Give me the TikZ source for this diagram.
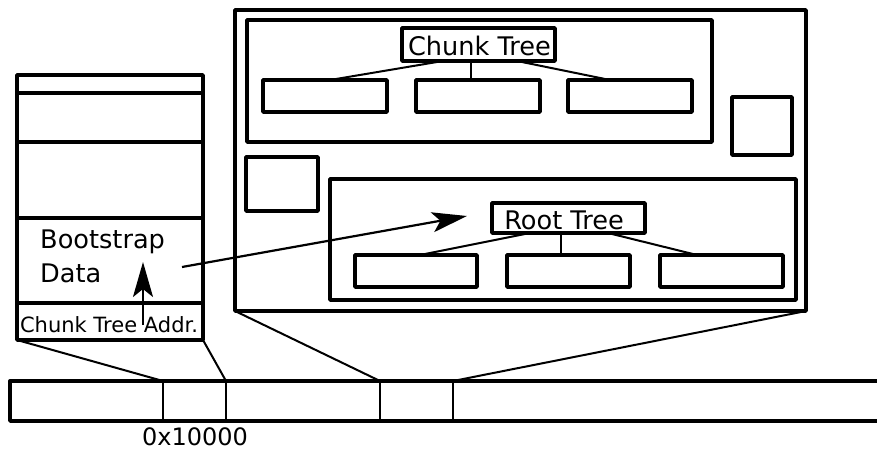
\documentclass[tikz,border=0pt]{standalone}
\usepackage{fontspec}
\setmainfont{DejaVu Sans}
\usetikzlibrary{arrows.meta,calc}
\tikzset{
  box/.style={draw, line width=3.8pt, line join=round, inner sep=0pt, outer sep=0pt},
  link/.style={line width=2pt},
  ptr/.style={line width=2.2pt, -{Stealth[length=35pt, width=20pt, inset=8pt]}},
  label/.style={inner sep=0pt, anchor=base, font=\fontsize{25.6}{30}\selectfont},
}
\begin{document}
\begin{tikzpicture}[x=1pt, y=-1pt]
\useasboundingbox (0,0) rectangle (877,450);

% ---- on-disk block: stacked cells ----
\node[box, minimum width=186pt, minimum height=18pt] (s1) at (110,84) {};
\node[box, minimum width=186pt, minimum height=49pt] (s2) at (110,117.5) {};
\node[box, minimum width=186pt, minimum height=76pt] (s3) at (110,180) {};
\node[box, minimum width=186pt, minimum height=85pt] (s4) at (110,260.5) {};
\node[box, minimum width=186pt, minimum height=37pt] (s5) at (110,321.5) {};
\node[label, anchor=base west] (boot) at (40,248) {Bootstrap};
\node[label, anchor=base west] (data) at (40,282) {Data};
\node[label, font=\fontsize{21}{24}\selectfont] (addr) at (109,332) {Chunk Tree Addr.};

% ---- tree area ----
\node[box, minimum width=571pt, minimum height=301pt] (big) at (520.5,160.5) {};

% chunk tree
\node[box, minimum width=465pt, minimum height=122pt] (carea) at (479.5,81) {};
\node[box, minimum width=153pt, minimum height=33pt] (ct) at (478.5,44.5) {};
\node[label] (cttext) at (479.5,55) {Chunk Tree};
\node[box, minimum width=124pt, minimum height=32pt] (c1) at (325,96) {};
\node[box, minimum width=124pt, minimum height=32pt] (c2) at (478,96) {};
\node[box, minimum width=124pt, minimum height=32pt] (c3) at (630,96) {};
\draw[link] ([xshift=-35.5pt]ct.south) -- ([xshift=5pt]c1.north);
\draw[link] ([xshift=-7.5pt]ct.south) -- ([xshift=-7pt]c2.north);
\draw[link] ([xshift=38.5pt]ct.south) -- ([xshift=-20pt]c3.north);

% loose blocks
\node[box, minimum width=60pt, minimum height=58pt] (sqr) at (762,126) {};
\node[box, minimum width=72pt, minimum height=54pt] (sql) at (282,184) {};

% root tree
\node[box, minimum width=466pt, minimum height=121pt] (rarea) at (563,239.5) {};
\node[box, minimum width=153pt, minimum height=30pt] (rt) at (568.5,218) {};
\node[label] (rttext) at (564,229) {Root Tree};
\node[box, minimum width=122pt, minimum height=32pt] (r1) at (416,271) {};
\node[box, minimum width=123pt, minimum height=32pt] (r2) at (568.5,271) {};
\node[box, minimum width=123pt, minimum height=32pt] (r3) at (721.5,271) {};
\draw[link] ([xshift=-38.5pt]rt.south) -- ([xshift=4pt]r1.north);
\draw[link] ([xshift=-7.5pt]rt.south) -- ([xshift=-7.5pt]r2.north);
\draw[link] ([xshift=39.5pt]rt.south) -- ([xshift=-24.5pt]r3.north);

% pointers
\coordinate (asrc) at (143,325);
\coordinate (atip) at (143,262);
\draw[ptr] (asrc) -- (atip);
\coordinate (bsrc) at (182,267);
\coordinate (btip) at (467,216);
\draw[ptr] (bsrc) -- (btip);

% ---- disk strip ----
\coordinate (d1) at (163,381);
\coordinate (d2) at (226,381);
\coordinate (d3) at (380,381);
\coordinate (d4) at (453,381);
\draw[line width=3.4pt, line join=round] (880,381) -- (10,381) -- (10,421) -- (880,421);
\foreach \d in {d1,d2,d3,d4}
  \draw[link] (\d) -- ++(0,40);
\node[label, font=\fontsize{24}{28}\selectfont] (addrlabel) at (195,445) {0x10000};

% fan lines from blocks to their place on disk
\draw[link] (s5.south west) -- (d1);
\draw[link] (s5.south east) -- (d2);
\draw[link] (big.south west) -- (d3);
\draw[link] (big.south east) -- (d4);
\end{tikzpicture}
\end{document}
